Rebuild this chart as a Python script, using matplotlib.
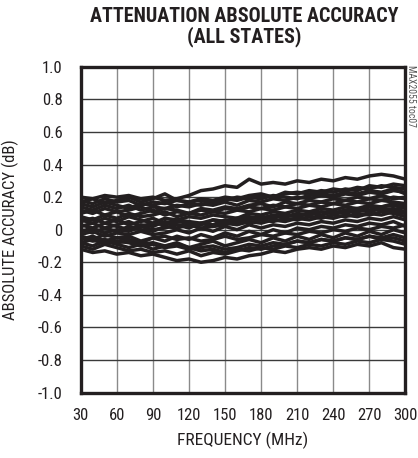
import matplotlib
matplotlib.use('Agg')
import matplotlib.pyplot as plt

plt.rcParams['font.family'] = ['Roboto Condensed', 'DejaVu Sans']

# frequency points (MHz)
freq = [30, 40, 50, 60, 70, 80, 90, 100, 110, 120, 130, 140, 150, 160,
        170, 180, 190, 200, 210, 220, 230, 240, 250, 260, 270, 280, 290, 300]

# absolute accuracy (dB), one list per attenuation state
acc_a = [0.20, 0.19, 0.21, 0.20, 0.21, 0.19, 0.20, 0.18, 0.19, 0.21, 0.24, 0.25, 0.27, 0.26,
         0.31, 0.28, 0.29, 0.28, 0.30, 0.29, 0.31, 0.30, 0.32, 0.31, 0.33, 0.34, 0.33, 0.31]
acc_b = [0.17, 0.19, 0.16, 0.18, 0.20, 0.17, 0.19, 0.22, 0.18, 0.17, 0.18, 0.16, 0.18, 0.20,
         0.19, 0.21, 0.20, 0.22, 0.23, 0.22, 0.24, 0.23, 0.25, 0.24, 0.27, 0.26, 0.28, 0.27]
acc_c = [0.14, 0.12, 0.15, 0.13, 0.15, 0.12, 0.14, 0.13, 0.15, 0.14, 0.16, 0.15, 0.17, 0.15,
         0.18, 0.17, 0.19, 0.18, 0.20, 0.19, 0.21, 0.20, 0.22, 0.21, 0.23, 0.22, 0.24, 0.23]
acc_d = [0.10, 0.12, 0.09, 0.11, 0.08, 0.10, 0.12, 0.09, 0.11, 0.10, 0.12, 0.11, 0.13, 0.12,
         0.14, 0.13, 0.15, 0.14, 0.16, 0.15, 0.17, 0.16, 0.18, 0.17, 0.19, 0.18, 0.20, 0.19]
acc_e = [0.06, 0.04, 0.07, 0.05, 0.08, 0.06, 0.04, 0.07, 0.06, 0.08, 0.07, 0.09, 0.08, 0.07,
         0.10, 0.09, 0.11, 0.10, 0.12, 0.11, 0.13, 0.12, 0.14, 0.13, 0.15, 0.14, 0.16, 0.15]
acc_f = [0.02, 0.04, 0.01, 0.03, 0.05, 0.02, 0.04, 0.03, 0.05, 0.04, 0.03, 0.06, 0.05, 0.07,
         0.06, 0.08, 0.07, 0.09, 0.08, 0.10, 0.09, 0.11, 0.10, 0.12, 0.11, 0.13, 0.12, 0.14]
acc_g = [0.00, -0.02, 0.01, -0.01, 0.02, 0.00, -0.01, 0.02, 0.01, 0.03, 0.01, 0.02, 0.04, 0.03,
         0.05, 0.04, 0.06, 0.05, 0.07, 0.06, 0.08, 0.07, 0.09, 0.08, 0.10, 0.09, 0.11, 0.10]
acc_h = [-0.03, -0.01, -0.04, -0.02, -0.03, -0.01, -0.03, -0.02, 0.00, -0.02, 0.01, -0.01, 0.02, 0.00,
         0.03, 0.01, 0.03, 0.02, 0.04, 0.03, 0.05, 0.04, 0.06, 0.05, 0.07, 0.06, 0.08, 0.06]
acc_i = [-0.06, -0.04, -0.07, -0.05, -0.06, -0.08, -0.05, -0.07, -0.04, -0.06, -0.03, -0.05, -0.02, -0.04,
         -0.01, -0.03, 0.00, -0.02, 0.01, 0.00, 0.02, 0.01, 0.03, 0.02, 0.04, 0.03, 0.05, 0.02]
acc_j = [-0.08, -0.10, -0.07, -0.09, -0.11, -0.09, -0.12, -0.10, -0.08, -0.11, -0.09, -0.07, -0.10, -0.08,
         -0.06, -0.08, -0.05, -0.07, -0.04, -0.06, -0.03, -0.05, -0.02, -0.04, -0.01, -0.03, 0.00, -0.02]
acc_k = [-0.12, -0.14, -0.13, -0.15, -0.14, -0.16, -0.15, -0.17, -0.19, -0.18, -0.20, -0.19, -0.17, -0.18,
         -0.16, -0.15, -0.13, -0.14, -0.12, -0.11, -0.12, -0.10, -0.11, -0.09, -0.10, -0.08, -0.11, -0.12]
acc_l = [-0.10, -0.12, -0.09, -0.11, -0.13, -0.12, -0.14, -0.13, -0.15, -0.13, -0.16, -0.14, -0.15, -0.13,
         -0.11, -0.12, -0.10, -0.09, -0.07, -0.08, -0.06, -0.07, -0.05, -0.06, -0.04, -0.05, -0.03, -0.05]
acc_m = [-0.05, -0.07, -0.06, -0.08, -0.07, -0.09, -0.08, -0.10, -0.09, -0.11, -0.13, -0.12, -0.14, -0.12,
         -0.13, -0.11, -0.12, -0.10, -0.11, -0.09, -0.10, -0.08, -0.09, -0.07, -0.08, -0.06, -0.07, -0.09]
acc_n = [0.05, 0.07, 0.04, 0.06, 0.03, 0.05, 0.07, 0.04, 0.06, 0.05, 0.04, 0.06, 0.05, 0.07,
         0.08, 0.07, 0.09, 0.08, 0.10, 0.09, 0.11, 0.10, 0.12, 0.11, 0.14, 0.12, 0.13, 0.11]
acc_o = [0.16, 0.14, 0.17, 0.15, 0.13, 0.16, 0.15, 0.17, 0.14, 0.16, 0.15, 0.17, 0.19, 0.18,
         0.20, 0.19, 0.21, 0.20, 0.19, 0.21, 0.22, 0.21, 0.23, 0.22, 0.24, 0.23, 0.25, 0.22]
acc_p = [-0.01, 0.01, -0.02, 0.00, -0.01, 0.02, 0.00, 0.01, 0.03, 0.02, 0.04, 0.03, 0.06, 0.05,
         0.07, 0.06, 0.08, 0.09, 0.08, 0.10, 0.11, 0.10, 0.12, 0.13, 0.12, 0.14, 0.15, 0.13]
acc_q = [0.08, 0.06, 0.09, 0.07, 0.10, 0.08, 0.09, 0.11, 0.08, 0.10, 0.09, 0.11, 0.10, 0.12,
         0.11, 0.13, 0.12, 0.14, 0.13, 0.15, 0.14, 0.16, 0.15, 0.17, 0.16, 0.18, 0.17, 0.16]
acc_r = [0.12, 0.10, 0.13, 0.11, 0.12, 0.14, 0.11, 0.13, 0.12, 0.10, 0.13, 0.12, 0.14, 0.13,
         0.15, 0.16, 0.14, 0.17, 0.16, 0.18, 0.17, 0.19, 0.18, 0.20, 0.19, 0.21, 0.19, 0.20]
acc_s = [0.03, 0.01, 0.04, 0.02, 0.00, 0.03, 0.02, 0.05, 0.03, 0.01, 0.04, 0.02, 0.03, 0.05,
         0.04, 0.06, 0.05, 0.07, 0.06, 0.08, 0.07, 0.09, 0.08, 0.10, 0.09, 0.11, 0.10, 0.08]
acc_t = [-0.04, -0.06, -0.03, -0.05, -0.04, -0.07, -0.05, -0.04, -0.06, -0.05, -0.07, -0.06, -0.04, -0.06,
         -0.05, -0.03, -0.04, -0.02, -0.03, -0.01, -0.02, 0.00, -0.01, 0.01, 0.00, 0.02, 0.01, 0.03]
acc_u = [0.18, 0.16, 0.19, 0.17, 0.18, 0.15, 0.17, 0.16, 0.18, 0.17, 0.19, 0.18, 0.20, 0.19,
         0.21, 0.22, 0.20, 0.23, 0.22, 0.24, 0.23, 0.25, 0.24, 0.26, 0.25, 0.27, 0.26, 0.25]
acc_v = [-0.08, -0.06, -0.09, -0.07, -0.08, -0.10, -0.09, -0.11, -0.10, -0.12, -0.11, -0.10, -0.12, -0.11,
         -0.09, -0.10, -0.08, -0.09, -0.07, -0.08, -0.06, -0.07, -0.05, -0.06, -0.04, -0.06, -0.05, -0.07]

states = [acc_a, acc_b, acc_c, acc_d, acc_e, acc_f, acc_g, acc_h, acc_i, acc_j, acc_k,
          acc_l, acc_m, acc_n, acc_o, acc_p, acc_q, acc_r, acc_s, acc_t, acc_u, acc_v]

xticks = [30, 60, 90, 120, 150, 180, 210, 240, 270, 300]
yticks = [-1.0, -0.8, -0.6, -0.4, -0.2, 0, 0.2, 0.4, 0.6, 0.8, 1.0]
ylabels = ['-1.0', '-0.8', '-0.6', '-0.4', '-0.2', '0', '0.2', '0.4', '0.6', '0.8', '1.0']

fig = plt.figure(figsize=(4.18, 4.58), dpi=100)
ax = fig.add_axes([0.193, 0.143, 0.777, 0.711])

# grid: light vertical lines, darker horizontal lines
for x in xticks[1:-1]:
    ax.axvline(x, color='#8a8a8a', lw=1.0, zorder=1)
for y in yticks[1:-1]:
    ax.axhline(y, color='#3a3a3a', lw=1.0, zorder=1)

for s in states:
    ax.plot(freq, s, color='#231f20', lw=2.5, zorder=2)

ax.set_xlim(30, 300)
ax.set_ylim(-1.0, 1.0)
ax.set_xticks(xticks)
ax.set_yticks(yticks)
ax.set_yticklabels(ylabels)
ax.tick_params(length=0, labelsize=12, colors='#231f20')
ax.tick_params(axis='x', pad=11)
ax.tick_params(axis='y', pad=13)
for sp in ax.spines.values():
    sp.set_linewidth(2.4)
    sp.set_color('#231f20')

ax.set_xlabel('FREQUENCY (MHz)', fontsize=12.5, color='#231f20')
ax.xaxis.set_label_coords(0.5, -0.12)
ax.set_ylabel('ABSOLUTE ACCURACY (dB)', fontsize=12, color='#231f20')
ax.yaxis.set_label_coords(-0.19, 0.5)

fig.text(0.584, 1 - 17 / 458, 'ATTENUATION ABSOLUTE ACCURACY', ha='center', va='center',
         fontsize=14.5, fontweight='bold', color='#231f20')
fig.text(0.584, 1 - 37 / 458, '(ALL STATES)', ha='center', va='center',
         fontsize=14.5, fontweight='bold', color='#231f20')

fig.text(0.983, 0.858, 'MAX2055 toc07', rotation=270, ha='center', va='top',
         fontsize=7, color='#555555')

fig.savefig('out.png', dpi=100)
